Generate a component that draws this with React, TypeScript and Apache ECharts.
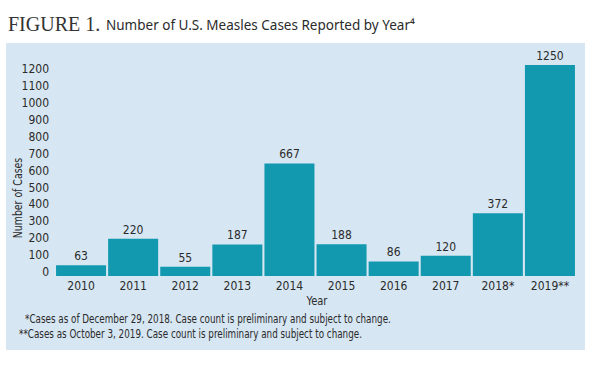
import React, { useEffect, useRef } from "react";
import * as echarts from "echarts";

const years = ["2010", "2011", "2012", "2013", "2014", "2015", "2016", "2017", "2018*", "2019**"];
const cases = [63, 220, 55, 187, 667, 188, 86, 120, 372, 1250];
const titleLead = "FIGURE 1.";
const titleText = "Number of U.S. Measles Cases Reported by Year⁴";
const yAxisName = "Number of Cases";
const xAxisName = "Year";
const footnotes = [
  "*Cases as of December 29, 2018. Case count is preliminary and subject to change.",
  "**Cases as October 3, 2019. Case count is preliminary and subject to change.",
];

const NARROW = "'Liberation Sans Narrow', 'DejaVu Sans Condensed', 'Noto Sans', sans-serif";
const TXT = "#2b2b2b";

export default function App() {
  const ref = useRef<HTMLDivElement>(null);
  useEffect(() => {
    document.body.style.margin = "0";
    const chart = echarts.init(ref.current!, null, { renderer: "svg" });
    chart.setOption({
      animation: false,
      backgroundColor: "#ffffff",
      graphic: [
        {
          type: "rect",
          z: -10,
          shape: { x: 6, y: 43, width: 579, height: 307 },
          style: { fill: "#d6e6f2" },
          silent: true,
        },
        {
          type: "text",
          x: 8,
          y: 34,
          style: {
            text: titleLead,
            font: "20px 'Liberation Serif', 'DejaVu Serif', serif",
            fill: "#333333",
            textVerticalAlign: "bottom",
          },
        },
        {
          type: "text",
          x: 106,
          y: 32,
          style: {
            text: titleText,
            font: "13.5px 'Noto Sans', 'Open Sans', sans-serif",
            fill: TXT,
            textVerticalAlign: "bottom",
          },
        },
        {
          type: "text",
          x: 18,
          y: 198,
          rotation: Math.PI / 2,
          scaleX: 0.8,
          style: {
            text: yAxisName,
            font: "13px " + NARROW,
            fill: TXT,
            align: "center",
            verticalAlign: "middle",
          },
        },
        {
          type: "text",
          x: 317,
          y: 301,
          scaleX: 0.85,
          style: {
            text: xAxisName,
            font: "13px " + NARROW,
            fill: TXT,
            align: "center",
            verticalAlign: "middle",
          },
        },
        {
          type: "text",
          x: 25,
          y: 318,
          scaleX: 0.752,
          style: {
            text: footnotes[0],
            font: "13px " + NARROW,
            fill: TXT,
            verticalAlign: "middle",
          },
        },
        {
          type: "text",
          x: 19,
          y: 333,
          scaleX: 0.752,
          style: {
            text: footnotes[1],
            font: "13px " + NARROW,
            fill: TXT,
            verticalAlign: "middle",
          },
        },
      ],
      grid: { left: 55, right: 19, top: 65, bottom: 91, containLabel: false },
      xAxis: {
        type: "category",
        data: years,
        axisLine: { show: false },
        axisTick: { show: false },
        axisLabel: {
          margin: 4,
          fontSize: 12,
          fontFamily: NARROW,
          color: TXT,
          verticalAlign: "top",
        },
      },
      yAxis: {
        type: "value",
        min: 0,
        max: 1250,
        interval: 100,
        splitLine: { show: false },
        axisLine: { show: false },
        axisTick: { show: false },
        axisLabel: {
          showMaxLabel: false,
          showMinLabel: true,
          margin: 6,
          fontSize: 12,
          fontFamily: NARROW,
          color: TXT,
          formatter: (v: number) => String(v),
          verticalAlign: "bottom",
          lineHeight: 8,
        },
      },
      series: [
        {
          type: "bar",
          data: cases,
          barCategoryGap: "4%",
          itemStyle: { color: "#1399af" },
          label: {
            show: true,
            position: "top",
            distance: 3,
            fontSize: 12,
            fontFamily: NARROW,
            color: TXT,
          },
        },
      ],
    });
    return () => chart.dispose();
  }, []);
  return (
    <div
      ref={ref}
      style={{ position: "absolute", left: 0, top: 0, width: 595, height: 367 }}
    />
  );
}
